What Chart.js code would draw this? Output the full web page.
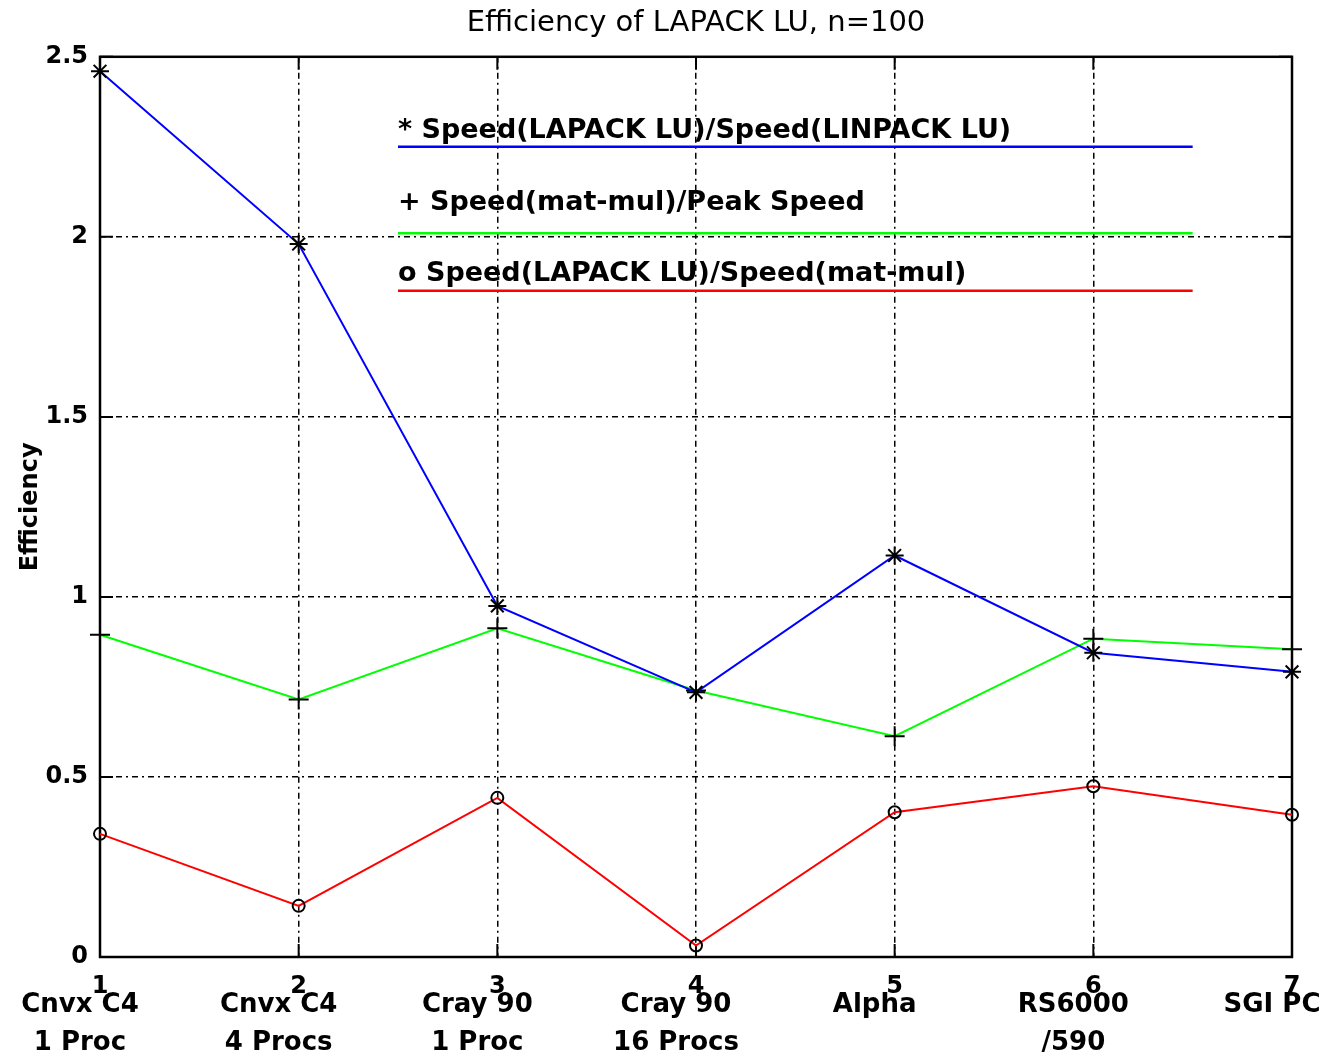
<!DOCTYPE html>
<html>
<head>
<meta charset="utf-8">
<title>Efficiency of LAPACK LU</title>
<script src="https://cdn.jsdelivr.net/npm/chart.js@4.4.1/dist/chart.umd.min.js"></script>
<style>
  html, body { margin: 0; padding: 0; background: #fff; }
  canvas { display: block; background: #fff; }
</style>
</head>
<body>
<canvas id="grafico" width="1321" height="1052"></canvas>
<script>
// ========================================================================
// DATA
// ========================================================================
const machineNumbers = [1, 2, 3, 4, 5, 6, 7];
const machineNames = [
    ['Cnvx C4', '1 Proc'],
    ['Cnvx C4', '4 Procs'],
    ['Cray 90', '1 Proc'],
    ['Cray 90', '16 Procs'],
    ['Alpha'],
    ['RS6000', '/590'],
    ['SGI PC']
];
const lapackVsLinpack = [2.46, 1.98, 0.975, 0.735, 1.115, 0.845, 0.792];
const matmulVsPeak   = [0.895, 0.715, 0.913, 0.74, 0.613, 0.884, 0.855];
const lapackVsMatmul = [0.342, 0.142, 0.442, 0.032, 0.402, 0.474, 0.395];
const yTicks = [0, 0.5, 1, 1.5, 2, 2.5];

// the old matlab-style legend lives inside the plot, drawn as short lines
const legendLabels = [
    '* Speed(LAPACK LU)/Speed(LINPACK LU)',
    '+ Speed(mat-mul)/Peak Speed',
    'o Speed(LAPACK LU)/Speed(mat-mul)'
];
const legendLineY = [2.25, 2.01, 1.85];
const legendTextY = [2.295, 2.095, 1.897];
const legendLineX = [2.5, 6.5];

const seriesColors = ['#0000ff', '#00ff00', '#ff0000'];
const seriesMarkers = ['star', 'cross', 'circle'];
const markerSizes = [9, 10, 6];
const gridDash = [6, 4, 2, 4];

// ========================================================================
// DATASETS
// ========================================================================
const toPoints = values => values.map((v, i) => ({ x: machineNumbers[i], y: v }));

const series = [lapackVsLinpack, matmulVsPeak, lapackVsMatmul].map((values, i) => ({
    data: toPoints(values),
    borderColor: seriesColors[i],
    borderWidth: 2,
    tension: 0,
    clip: false,
    pointStyle: seriesMarkers[i],
    pointRadius: markerSizes[i],
    pointBorderColor: '#000',
    pointBackgroundColor: 'rgba(0,0,0,0)',
    pointBorderWidth: 2
}));

const legendLines = legendLineY.map((y, i) => ({
    data: legendLineX.map(x => ({ x, y })),
    borderColor: seriesColors[i],
    borderWidth: 2.5,
    pointRadius: 0
}));

// ========================================================================
// PLUGINS (frame, inward ticks, legend text)
// ========================================================================
const frameAndTicks = {
    id: 'frameAndTicks',
    beforeDatasetsDraw(chart) {
        const { ctx, chartArea: a, scales } = chart;
        ctx.save();
        ctx.strokeStyle = '#000';
        ctx.lineWidth = 2;
        ctx.beginPath();
        scales.x.ticks.forEach(t => {
            const px = scales.x.getPixelForValue(t.value);
            ctx.moveTo(px, a.bottom); ctx.lineTo(px, a.bottom - 13);
            ctx.moveTo(px, a.top); ctx.lineTo(px, a.top + 13);
        });
        scales.y.ticks.forEach(t => {
            const py = scales.y.getPixelForValue(t.value);
            ctx.moveTo(a.left, py); ctx.lineTo(a.left + 13, py);
            ctx.moveTo(a.right, py); ctx.lineTo(a.right - 13, py);
        });
        ctx.stroke();
        ctx.lineWidth = 2.5;
        ctx.strokeRect(a.left, a.top, a.right - a.left, a.bottom - a.top);
        ctx.restore();
    }
};

const legendText = {
    id: 'legendText',
    afterDatasetsDraw(chart) {
        const { ctx, scales } = chart;
        ctx.save();
        ctx.font = 'bold 27px "DejaVu Sans"';
        ctx.fillStyle = '#000';
        ctx.textAlign = 'left';
        ctx.textBaseline = 'middle';
        legendLabels.forEach((label, i) => {
            ctx.fillText(label, scales.x.getPixelForValue(legendLineX[0]), scales.y.getPixelForValue(legendTextY[i]));
        });
        ctx.restore();
    }
};

// ========================================================================
// CHART
// ========================================================================
const gridStyle = { color: '#000', lineWidth: 1.5, drawTicks: false };

new Chart(document.getElementById('grafico'), {
    type: 'line',
    data: { datasets: [...series, ...legendLines] },
    options: {
        responsive: false,
        animation: false,
        devicePixelRatio: 1,
        layout: { padding: { top: 0, right: 29, bottom: 0, left: 0 } },
        plugins: {
            legend: { display: false },
            tooltip: { enabled: false },
            title: {
                display: true,
                fullSize: false,
                text: 'Efficiency of LAPACK LU, n=100',
                color: '#000',
                font: { family: '"DejaVu Sans"', size: 29, weight: 'normal', lineHeight: 1.2 },
                padding: { top: 6, bottom: 16 }
            }
        },
        scales: {
            x: {
                type: 'linear',
                position: 'bottom',
                weight: 0,
                min: 1,
                max: 7,
                afterBuildTicks: s => { s.ticks = machineNumbers.map(v => ({ value: v })); },
                ticks: {
                    color: '#000',
                    padding: 18,
                    font: { family: '"DejaVu Sans"', size: 24, weight: 'bold', lineHeight: 1 },
                    callback: v => String(v)
                },
                grid: gridStyle,
                border: { display: false, dash: gridDash },
                afterFit: s => { s.height = 40; s.paddingLeft = 0; s.paddingRight = 0; }
            },
            names: {
                type: 'linear',
                position: 'bottom',
                axis: 'x',
                weight: 1,
                min: 1,
                max: 7,
                afterBuildTicks: s => { s.ticks = machineNumbers.map(v => ({ value: v })); },
                ticks: {
                    color: '#000',
                    // mirror keeps the labels from being clipped to the axis box
                    mirror: true,
                    padding: -27,
                    labelOffset: -20,
                    font: { family: '"DejaVu Sans"', size: 26, weight: 'bold', lineHeight: 1.46 },
                    callback: v => machineNames[v - 1]
                },
                grid: { display: false, drawTicks: false },
                border: { display: false },
                afterFit: s => { s.height = 55; s.paddingLeft = 0; s.paddingRight = 0; }
            },
            y: {
                min: 0,
                max: 2.5,
                afterBuildTicks: s => { s.ticks = yTicks.map(v => ({ value: v })); },
                ticks: {
                    color: '#000',
                    padding: 12,
                    font: { family: '"DejaVu Sans"', size: 24, weight: 'bold' },
                    callback: v => String(v)
                },
                grid: gridStyle,
                border: { display: false, dash: gridDash },
                title: {
                    display: true,
                    text: 'Efficiency',
                    color: '#000',
                    font: { family: '"DejaVu Sans"', size: 24, weight: 'bold', lineHeight: 1.2 },
                    padding: { top: 16, bottom: 0 }
                },
                afterFit: s => { s.width = 100; s.paddingTop = 0; s.paddingBottom = 0; }
            }
        }
    },
    plugins: [frameAndTicks, legendText]
});
</script>
</body>
</html>
